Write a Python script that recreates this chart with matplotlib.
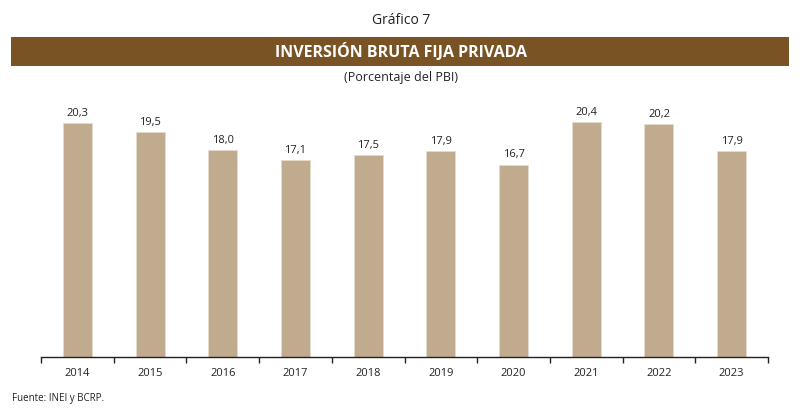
import matplotlib.pyplot as plt
from matplotlib.patches import Rectangle

plt.rcParams['font.family'] = ['Open Sans', 'DejaVu Sans']

years = ['2014', '2015', '2016', '2017', '2018', '2019', '2020', '2021', '2022', '2023']
values = [20.3, 19.5, 18.0, 17.1, 17.5, 17.9, 16.7, 20.4, 20.2, 17.9]

bar_color = '#c1ab8f'
banner_color = '#7a5324'

fig = plt.figure(figsize=(8.02, 4.17), dpi=100)
ax = fig.add_axes([41 / 802, 1 - 357 / 417, 727 / 802, 276.6 / 417])

x = range(len(years))
bars = ax.bar(x, values, width=0.4, color=bar_color, edgecolor='#e6dccd', linewidth=0.6)
for xi, v in zip(x, values):
    ax.text(xi, v + 0.35, f'{v:.1f}'.replace('.', ','), ha='center', va='bottom',
            fontsize=8, color='#222222')

ax.set_xlim(-0.5, len(years) - 0.5)
ax.set_ylim(0, 24)
ax.set_xticks(x)
ax.set_xticklabels(years, fontsize=8, color='#222222')
ax.set_xticks([i - 0.5 for i in range(len(years) + 1)], minor=True)
ax.tick_params(axis='x', which='major', length=0, pad=8)
ax.tick_params(axis='x', which='minor', length=4, width=1, direction='out', color='#222222')
ax.set_yticks([])
for s in ['left', 'right', 'top']:
    ax.spines[s].set_visible(False)
ax.spines['bottom'].set_color('#222222')
ax.spines['bottom'].set_linewidth(1)

# titulo y banda
fig.text(0.5, 1 - 20 / 417, 'Gráfico 7', ha='center', va='center', fontsize=10, color='#222222')
fig.patches.append(Rectangle((11 / 802, 1 - 66 / 417), 778 / 802, 29 / 417,
                             transform=fig.transFigure, facecolor=banner_color,
                             edgecolor='none'))
fig.text(0.5, 1 - 51.5 / 417, 'INVERSIÓN BRUTA FIJA PRIVADA', ha='center', va='center',
         fontsize=11.5, fontweight='bold', color='white')
fig.text(0.5, 1 - 77 / 417, '(Porcentaje del PBI)', ha='center', va='center',
         fontsize=9, color='#222222')
fig.text(12 / 802, 1 - 398 / 417, 'Fuente: INEI y BCRP.', ha='left', va='center',
         fontsize=7, color='#222222')

fig.savefig('out.png', dpi=100)
